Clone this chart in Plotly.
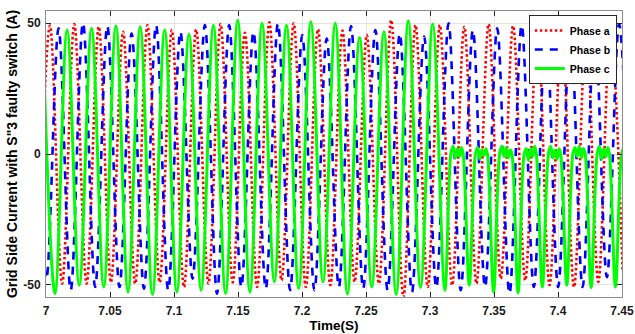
import plotly.graph_objects as go

# ---------------- data ----------------
# Phase a: successive extrema (trough, peak, trough, ...)
a_time = [6.9936, 7.0031, 7.0126, 7.0221, 7.0317, 7.0412, 7.0507, 7.0602, 7.0697, 7.0793,
          7.0888, 7.0983, 7.1078, 7.1173, 7.1269, 7.1364, 7.1459, 7.1554, 7.1649, 7.1745,
          7.1840, 7.1935, 7.2030, 7.2125, 7.2221, 7.2316, 7.2411, 7.2506, 7.2601, 7.2697,
          7.2792, 7.2887, 7.2982, 7.3077, 7.3173, 7.3268, 7.3363, 7.3458, 7.3553, 7.3649,
          7.3744, 7.3839, 7.3934, 7.4029, 7.4125, 7.4220, 7.4315, 7.4410, 7.4505]
a_current = [-49, 49, -49.5, 49.6, -49.5, 48.6, -49, 46.7, -49.5, 49.2,
             -49, 47.3, -50.8, 47.5, -49.5, 49.6, -49, 46.3, -50.8, 50.3,
             -48.2, 49.9, -50.8, 47.6, -50.1, 47.1, -48.8, 45.4, -49.5, 51.1,
             -54.6, 49.2, -50.8, 49.2, -50.1, 48.6, -49.5, 49.6, -47.6, 48.9,
             -48.2, 49.6, -50.1, 49, -50.8, 48, -48.8, 49, -45]

# Phase b: successive extrema (peak, trough, peak, ...)
b_time = [6.9908, 7.0003, 7.0098, 7.0193, 7.0289, 7.0384, 7.0479, 7.0574, 7.0669, 7.0765,
          7.0860, 7.0955, 7.1050, 7.1145, 7.1241, 7.1336, 7.1431, 7.1526, 7.1621, 7.1717,
          7.1812, 7.1907, 7.2002, 7.2097, 7.2193, 7.2288, 7.2383, 7.2478, 7.2573, 7.2669,
          7.2764, 7.2859, 7.2954, 7.3049, 7.3145, 7.3240, 7.3335, 7.3430, 7.3525, 7.3621,
          7.3716, 7.3811, 7.3906, 7.4001, 7.4097, 7.4192, 7.4287, 7.4382, 7.4477, 7.4573]
b_current = [48, -47.6, 48, -52, 50.1, -50.8, 48.9, -50.8, 46, -51.4,
             49.2, -52, 46.7, -47.6, 49.2, -53.3, 49.2, -50.8, 46.7, -51.4,
             49.9, -52, 45.4, -52, 44.1, -50.8, 48.9, -51.4, 47.3, -52,
             46, -52.7, 44.8, -51, 49.9, -52, 47.3, -50.8, 48, -53.3,
             49.2, -50.8, 49, -50.8, 49, -50.8, 49, -47, 49.6, -50]

# Phase c before the switch fault: successive extrema (peak, trough, ...)
c_time_pre = [6.9975, 7.0070, 7.0165, 7.0260, 7.0356, 7.0451, 7.0546, 7.0641, 7.0736, 7.0832,
              7.0927, 7.1022, 7.1117, 7.1212, 7.1308, 7.1403, 7.1498, 7.1593, 7.1688, 7.1784,
              7.1879, 7.1974, 7.2069, 7.2164, 7.2260, 7.2355, 7.2450, 7.2545, 7.2640, 7.2736,
              7.2831, 7.2926, 7.3021, 7.3116]
c_current_pre = [45, -53.3, 47.3, -50.1, 48, -50.8, 48.9, -52.7, 48.6, -53.6,
                 47.3, -52.7, 45.7, -52, 49.2, -53.3, 51.1, -52.7, 49.9, -48.8,
                 49.2, -51.4, 50.5, -48.8, 49.9, -53.5, 44.5, -50.8, 46.7, -53.6,
                 50.9, -51, 49.6, -52]

# Phase c after the fault: positive half-cycles collapse to a rippled plateau near 0
c_time_fault = [7.3164, 7.3181, 7.3198, 7.3214, 7.3230, 7.3246, 7.3259, 7.3307,
                7.3355, 7.3372, 7.3389, 7.3405, 7.3421, 7.3437, 7.3450, 7.3497,
                7.3545, 7.3562, 7.3579, 7.3595, 7.3611, 7.3627, 7.3640, 7.3688,
                7.3736, 7.3753, 7.3770, 7.3786, 7.3802, 7.3818, 7.3831, 7.3878,
                7.3926, 7.3943, 7.3960, 7.3976, 7.3992, 7.4008, 7.4021, 7.4069,
                7.4116, 7.4133, 7.4150, 7.4166, 7.4182, 7.4198, 7.4211, 7.4259,
                7.4307, 7.4324, 7.4341, 7.4357, 7.4373, 7.4389, 7.4402, 7.4449,
                7.4497, 7.4514, 7.4531]
c_current_fault = [0.5, 3, -1.5, 2, -1, 2.5, 0, -50.1,
                   0, 2.5, -2, 1.5, -0.5, 2, -0.5, -52.7,
                   0.5, 3, -1, 2.5, -1.5, 1.5, 0, -53,
                   0, 2, -2.5, 2, -1, 3, 0, -50.8,
                   0.5, 3, -1.5, 1.5, -2, 2, 0, -50.1,
                   0, 2.5, -1, 3, -1.5, 2, 0.5, -51,
                   0.5, 3, -2, 2, -1, 2.5, 0, -50.8,
                   0, 2.5, -1]

x_tick_values = [7.0, 7.05, 7.1, 7.15, 7.2, 7.25, 7.3, 7.35, 7.4, 7.45]
x_tick_labels = ["7", "7.05", "7.1", "7.15", "7.2", "7.25", "7.3", "7.35", "7.4", "7.45"]
y_tick_values = [-50, 0, 50]
y_tick_labels = ["-50", "0", "50"]
series_names = ["Phase a", "Phase b", "Phase c"]

# ---------------- figure ----------------
FONT = "Arial, 'Liberation Sans', sans-serif"

fig = go.Figure()
fig.add_trace(go.Scatter(
    x=a_time, y=a_current, mode="lines", name=series_names[0],
    line=dict(color="#FF0000", width=2.6, dash="2.5px,2.5px", shape="spline", smoothing=1)))
fig.add_trace(go.Scatter(
    x=b_time, y=b_current, mode="lines", name=series_names[1],
    line=dict(color="#0000FF", width=2.6, dash="8px,7px", shape="spline", smoothing=1)))
fig.add_trace(go.Scatter(
    x=c_time_pre + c_time_fault, y=c_current_pre + c_current_fault, mode="lines",
    name=series_names[2],
    line=dict(color="#00FF00", width=3, shape="spline", smoothing=1)))

axis_common = dict(
    ticks="inside", ticklen=5, tickwidth=1, tickcolor="#262626",
    showline=True, linecolor="#8c8c8c", linewidth=1, mirror="ticks",
    showgrid=True, gridcolor="#e4e4e4", gridwidth=1, zeroline=False,
    tickfont=dict(family=FONT, size=12, color="#1a1a1a", weight="bold"),
)

fig.update_xaxes(
    range=[7.0, 7.45], tickmode="array", tickvals=x_tick_values, ticktext=x_tick_labels,
    ticklabelstandoff=3,
    title=dict(text="Time(S)", font=dict(family=FONT, size=13.5, color="#000", weight="bold"),
               standoff=0),
    **axis_common)
fig.update_yaxes(
    range=[-54.6, 54.6], tickmode="array", tickvals=y_tick_values, ticktext=y_tick_labels,
    ticklabelstandoff=2,
    title=dict(text='Grid Side Current with S"3 faulty switch (A)',
               font=dict(family=FONT, size=14, color="#000", weight="bold"), standoff=2),
    **axis_common)

fig.update_layout(
    width=635, height=334,
    margin=dict(l=46, r=13, t=11, b=37, autoexpand=False),
    paper_bgcolor="white", plot_bgcolor="white",
    font=dict(family=FONT, color="#000"),
    legend=dict(
        x=0.991, y=0.986, xanchor="right", yanchor="top",
        bgcolor="white", bordercolor="#262626", borderwidth=1,
        font=dict(family=FONT, size=10.5, color="#000", weight="bold"),
        itemwidth=30, tracegroupgap=0,
    ),
)

fig.write_html("out.html")
